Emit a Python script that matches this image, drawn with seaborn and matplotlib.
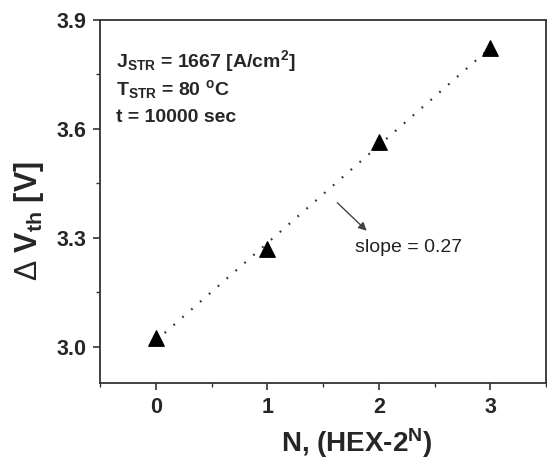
import numpy as np
import pandas as pd
import matplotlib
matplotlib.use("Agg")
import matplotlib.pyplot as plt
from matplotlib.ticker import MultipleLocator
import seaborn as sns

# data
n_values = [0, 1, 2, 3]
dvth_values = [3.025, 3.268, 3.563, 3.823]
x_ticks = [0, 1, 2, 3]
y_ticks = [3.0, 3.3, 3.6, 3.9]

sns.set_style("ticks")
plt.rcParams['font.family'] = ['Liberation Sans', 'DejaVu Sans']
plt.rcParams['font.weight'] = 'bold'
plt.rcParams['mathtext.fontset'] = 'custom'
plt.rcParams['mathtext.rm'] = 'Liberation Sans:weight=normal'
plt.rcParams['mathtext.default'] = 'regular'

df = pd.DataFrame({"N": n_values, "dVth": dvth_values})

fig = plt.figure(figsize=(5.47, 4.61), dpi=100)
ax = fig.add_axes([100 / 547, 1 - 383 / 461, 446 / 547, 363 / 461])

sns.regplot(data=df, x="N", y="dVth", ax=ax, scatter=False, ci=None,
            line_kws=dict(color="#333333", lw=1.6, linestyle=(0, (0.8, 4.5))))
sns.scatterplot(data=df, x="N", y="dVth", ax=ax, marker="^", s=125,
                color="black", edgecolor="black", zorder=5)

ax.set_xlim(-0.5, 3.5)
ax.set_ylim(2.9, 3.9)
ax.set_xticks(x_ticks)
ax.set_yticks(y_ticks)
ax.xaxis.set_minor_locator(MultipleLocator(0.5))
ax.yaxis.set_minor_locator(MultipleLocator(0.15))
ax.set_xticklabels([str(v) for v in x_ticks])
ax.set_yticklabels([f"{v:.1f}" for v in y_ticks])

for s in ax.spines.values():
    s.set_linewidth(1.3)
    s.set_color("#333333")
ax.tick_params(which='major', direction='out', length=5, width=1.2, color="#333333",
               labelsize=15.5, pad=5)
ax.tick_params(which='minor', direction='out', length=3, width=1.0, color="#333333")
for lab in ax.get_xticklabels() + ax.get_yticklabels():
    lab.set_fontweight('bold')

ax.set_xlabel("N, (HEX-2$^{N}$)", fontsize=20, fontweight='bold')
ax.xaxis.label.set_va('baseline')
ax.xaxis.set_label_coords(0.576, -0.19)
ax.set_ylabel("$\\mathrm{\\Delta}$ V$_{th}$ [V]", fontsize=22, fontweight='bold')
ax.yaxis.set_label_coords(-0.12, 0.447)

ax.text(0.036, 0.871, "J$_{STR}$ = 1667 [A/cm$^{2}$]", transform=ax.transAxes,
        fontsize=14, fontweight='bold', va='baseline', ha='left')
ax.text(0.036, 0.793, "T$_{STR}$ = 80 $^{o}$C", transform=ax.transAxes,
        fontsize=14, fontweight='bold', va='baseline', ha='left')
ax.text(0.036, 0.720, "t = 10000 sec", transform=ax.transAxes,
        fontsize=14, fontweight='bold', va='baseline', ha='left')

ax.annotate("", xy=(1.91, 3.314), xytext=(1.61, 3.402),
            arrowprops=dict(arrowstyle="-|>", color="#444444", lw=1.0,
                            mutation_scale=12))
ax.text(1.79, 3.272, "slope = 0.27", fontsize=14, fontweight='normal',
        va='center', ha='left', color="#222222")

fig.savefig("out.png", dpi=100)
